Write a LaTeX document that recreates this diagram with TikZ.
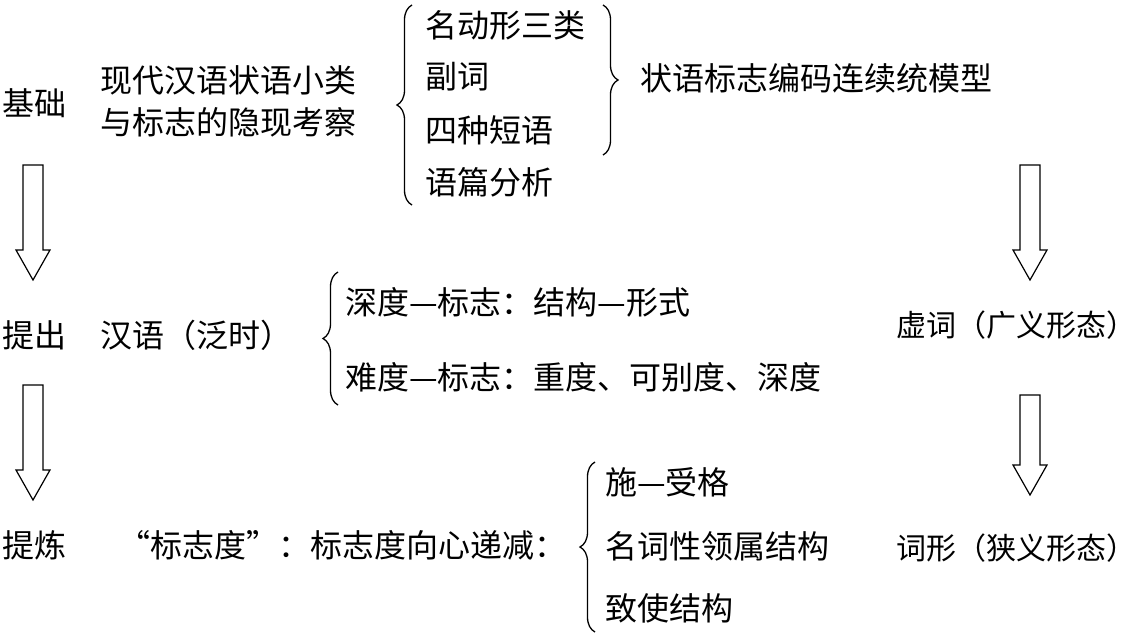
\documentclass[tikz,border=0pt]{standalone}
\usepackage{fontspec}
\setmainfont{Noto Sans CJK SC}
\usetikzlibrary{decorations.pathreplacing}
\tikzset{
  txt/.style={inner sep=0pt, font=\fontsize{32}{42}\selectfont, anchor=west},
  br/.style={decorate, decoration={brace, amplitude=15pt}, line width=1.3pt},
}
\newcommand{\hollow}[3]{% x, ytop, ybottom
  \draw[line width=1.2pt] (#1-10,#2) -- (#1+10,#2) -- (#1+10,#3-30) -- (#1+17,#3-30) -- (#1,#3) -- (#1-17,#3-30) -- (#1-10,#3-30) -- cycle;}
\begin{document}
\begin{tikzpicture}[x=1pt,y=-1pt]
\useasboundingbox (0,0) rectangle (1148,635);
\node[txt] (jc) at (2,103) {基础};
\node[txt, align=left] (xd) at (100,101) {现代汉语状语小类\\与标志的隐现考察};
\node[txt] (a1) at (425,25) {名动形三类};
\node[txt] (a2) at (425,77) {副词};
\node[txt] (a3) at (425,130) {四种短语};
\node[txt] (a4) at (425,182) {语篇分析};
\node[txt] (mx) at (640,78) {状语标志编码连续统模型};
\draw[br] (412,205) -- (412,5);
\draw[br] (603,5) -- (603,155);

\node[txt] (tc) at (2,335) {提出};
\node[txt] (hy) at (100,335) {汉语（泛时）};
\node[txt] (b1) at (345,302) {深度—标志：结构—形式};
\node[txt] (b2) at (345,377) {难度—标志：重度、可别度、深度};
\node[txt, font=\fontsize{30}{40}\selectfont] (xc) at (896,325) {虚词（广义形态）};
\draw[br] (338,405) -- (338,272);

\node[txt] (tl) at (2,545) {提炼};
\node[txt] (bz) at (118,545) {“标志度”：标志度向心递减：};
\node[txt] (c1) at (605,482) {施—受格};
\node[txt] (c2) at (605,546) {名词性领属结构};
\node[txt] (c3) at (605,608) {致使结构};
\node[txt, font=\fontsize{30}{40}\selectfont] (cx) at (896,548) {词形（狭义形态）};
\draw[br] (595,632) -- (595,462);

\hollow{33}{165}{280}
\hollow{33}{385}{500}
\hollow{1030}{165}{280}
\hollow{1030}{395}{495}
\end{tikzpicture}
\end{document}
